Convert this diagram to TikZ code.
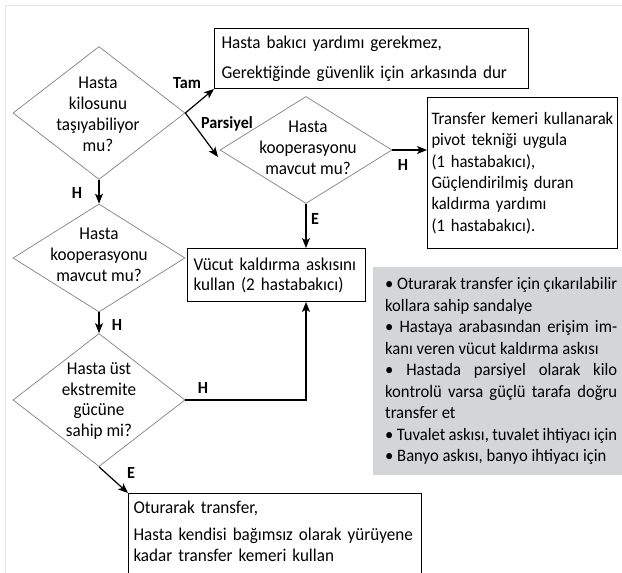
\documentclass[tikz,border=0pt]{standalone}
\usepackage{fontspec}
\setmainfont{Carlito}[FakeStretch=0.95]
\usetikzlibrary{positioning,shapes.geometric,arrows.meta}
\definecolor{notegray}{RGB}{212,213,215}
\definecolor{framegray}{RGB}{228,228,228}

\begin{document}
\begin{tikzpicture}[
        x=1pt,y=-1pt,
        font=\fontsize{18}{21}\selectfont,
        dia/.style={draw=gray,diamond,line width=.7pt,inner sep=0pt},
        txt/.style={align=center},
        box/.style={draw,line width=1pt,rectangle,align=left,anchor=north west,inner ysep=0pt},
        note/.style={fill=notegray,anchor=north west,align=justify,inner xsep=12pt,
            text width=232,minimum width=256,minimum height=208},
        lbl/.style={font=\fontsize{17}{17}\selectfont\bfseries,inner sep=0pt},
        arr/.style={-{Stealth[length=10pt,width=8pt,inset=2.5pt]},line width=1.2pt}
    ]
    \useasboundingbox (0,0) rectangle (622,573);
    \draw[framegray,line width=.8pt] (5,573) -- (5,5) -- (622,5);

    % questions
    \node[dia,minimum width=172,minimum height=133] (d1) at (99,113) {};
    \node[txt] (d1t) at (98,114) {Hasta\\kilosunu\\taşıyabiliyor\\mu?};
    \node[dia,minimum width=172,minimum height=107] (d2) at (306,150) {};
    \node[txt] (d2t) at (308,148) {Hasta\\kooperasyonu\\mavcut mu?};
    \node[dia,minimum width=172,minimum height=108] (d3) at (99,258) {};
    \node[txt] (d3t) at (99,255) {Hasta\\kooperasyonu\\mavcut mu?};
    \node[dia,minimum width=172,minimum height=133] (d4) at (99,400) {};
    \node[txt,font=\fontsize{18}{20.7}\selectfont] (d4t) at (99,401)
        {Hasta üst\\ekstremite\\gücüne\\sahip mi?};

    % answers
    \node[box,text width=300,inner xsep=7pt,minimum height=60] (b1) at (214,28)
        {Hasta bakıcı yardımı gerekmez,\\[9pt]Gerektiğinde güvenlik için arkasında dur};
    \node[box,text width=182,inner xsep=4pt,minimum height=151,
        font=\fontsize{17.5}{21.3}\selectfont] (b2) at (427,97)
        {Transfer kemeri kullanarak\\pivot tekniği uygula\\(1 hastabakıcı),\\
         Güçlendirilmiş duran\\kaldırma yardımı\\(1 hastabakıcı).};
    \node[box,text width=166,inner xsep=6pt,minimum height=53,
        font=\fontsize{18}{20}\selectfont] (b3) at (187,248)
        {Vücut kaldırma askısını\\kullan (2 hastabakıcı)};
    \node[box,text width=283,inner xsep=5pt,inner ysep=7pt,text depth=80pt] (b5) at (128,493)
        {Oturarak transfer,\\[6pt]Hasta kendisi bağımsız olarak yürüyene\\kadar transfer kemeri kullan};
    \node[note,font=\fontsize{17.5}{21.5}\selectfont] (tips) at (373,267)
        {• Oturarak transfer için çıkarılabilir\linebreak kollara sahip sandalye\\
         • Hastaya arabasından erişim im-\linebreak kanı veren vücut kaldırma askısı\\
         • Hastada parsiyel olarak kilo\linebreak kontrolü varsa güçlü tarafa doğru\linebreak transfer et\\
         • Tuvalet askısı, tuvalet ihtiyacı için\\
         • Banyo askısı, banyo ihtiyacı için};

    % connectors
    \coordinate (pend) at (218,157);
    \draw[arr] (d1.east) -- (b1.south west);
    \draw[arr] (d1.east) -- (pend);
    \draw[arr] (d2.east) -- (d2.east -| b2.west);
    \draw[arr] (d2.south) -- (d2.south |- b3.north);
    \draw[arr] (d1.south) -- (d3.north);
    \draw[arr] (d3.south) -- (d4.north);
    \draw[arr] (d4.east) -| (d2.south |- b3.south);
    \draw[arr] (d4.south) -- (b5.north west);

    \node[lbl] (tam) at (187,83) {Tam};
    \node[lbl] (pars) at (227,124) {Parsiyel};
    \node[lbl] (h1) at (403,165) {H};
    \node[lbl] (e1) at (315,219) {E};
    \node[lbl] (h2) at (77,193) {H};
    \node[lbl] (h3) at (117,325) {H};
    \node[lbl] (h4) at (203,388) {H};
    \node[lbl] (e2) at (131,473) {E};
\end{tikzpicture}
\end{document}
